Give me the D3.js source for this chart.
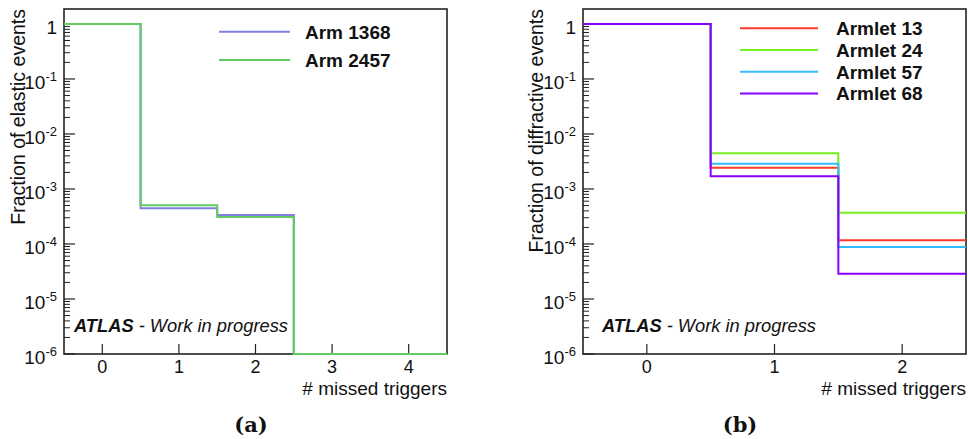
<!DOCTYPE html>
<html>
<head>
<meta charset="utf-8">
<script src="https://cdn.jsdelivr.net/npm/d3@7"></script>
<style>
  html, body { margin: 0; padding: 0; background: #fff; }
  svg { display: block; }
  text { font-family: "Liberation Sans", Arial, Helvetica, sans-serif; fill: #111; }
</style>
</head>
<body>
<svg id="chart" width="968" height="439"></svg>
<script>
// Bin centres (# missed triggers) for each panel
const elasticBins = [0, 1, 2, 3, 4];
const diffractiveBins = [0, 1, 2];

// Fraction of elastic events per arm (0 = empty bin)
const arm1368 = [1, 4.46e-4, 3.37e-4, 0, 0];
const arm2457 = [1, 5.05e-4, 3.10e-4, 0, 0];

// Fraction of diffractive events per armlet
const armlet13 = [1, 2.44e-3, 1.17e-4];
const armlet24 = [1, 4.46e-3, 3.71e-4];
const armlet57 = [1, 2.88e-3, 8.82e-5];
const armlet68 = [1, 1.70e-3, 2.88e-5];

// Log-axis decades shown as tick labels
const yDecades = [0, -1, -2, -3, -4, -5, -6];
const yMin = 1e-6, yMax = 1.87;

const svg = d3.select("#chart");

function drawPanel(p) {
  const g = svg.append("g");
  const x = d3.scaleLinear().domain([p.bins[0] - 0.5, p.bins[p.bins.length - 1] + 0.5]).range([p.left, p.right]);
  const y = d3.scaleLog().domain([yMin, yMax]).range([p.bottom, p.top]);

  // frame
  g.append("rect")
    .attr("x", p.left).attr("y", p.top)
    .attr("width", p.right - p.left).attr("height", p.bottom - p.top)
    .attr("fill", "none").attr("stroke", "#222").attr("stroke-width", 1.6);

  // minor log ticks
  const minor = [];
  yDecades.forEach(e => {
    if (e === 0) return;
    for (let k = 2; k <= 9; k++) minor.push(k * Math.pow(10, e));
  });
  g.selectAll(".minor").data(minor).join("line")
    .attr("x1", p.left).attr("x2", p.left + 6)
    .attr("y1", d => y(d)).attr("y2", d => y(d))
    .attr("stroke", "#222").attr("stroke-width", 1);

  // major log ticks and labels
  g.selectAll(".major").data(yDecades).join("line")
    .attr("x1", p.left).attr("x2", p.left + 11)
    .attr("y1", d => y(Math.pow(10, d))).attr("y2", d => y(Math.pow(10, d)))
    .attr("stroke", "#222").attr("stroke-width", 1.2);

  const lbl = g.selectAll(".ylab").data(yDecades).join("text")
    .attr("x", p.left - 7)
    .attr("y", d => y(Math.pow(10, d)) + 10)
    .attr("text-anchor", "end")
    .style("font-size", "19px");
  lbl.each(function(d) {
    const t = d3.select(this);
    if (d === 0) { t.text("1"); return; }
    t.append("tspan").text("10");
    t.append("tspan").attr("dy", -8).style("font-size", "13px").text(String(d));
  });

  // x ticks and labels
  g.selectAll(".xt").data(p.bins).join("line")
    .attr("x1", d => x(d)).attr("x2", d => x(d))
    .attr("y1", p.bottom).attr("y2", p.bottom - 10)
    .attr("stroke", "#222").attr("stroke-width", 1.2);
  g.selectAll(".xl").data(p.bins).join("text")
    .attr("x", d => x(d)).attr("y", p.bottom + 19)
    .attr("text-anchor", "middle").style("font-size", "18px")
    .text(d => d);

  // histograms drawn as steps; empty bins sit on the lower edge
  p.series.forEach(s => {
    const pts = [];
    s.values.forEach((v, i) => {
      const yy = y(Math.max(v, yMin));
      pts.push([x(p.bins[i] - 0.5), yy]);
      pts.push([x(p.bins[i] + 0.5), yy]);
    });
    g.append("path")
      .attr("d", d3.line()(pts))
      .attr("fill", "none")
      .attr("stroke", s.color)
      .attr("stroke-width", 2);
  });

  // axis titles
  g.append("text")
    .attr("transform", `translate(${p.ylabelX},${p.top}) rotate(-90)`)
    .attr("text-anchor", "end").style("font-size", "19.5px")
    .text(p.ylabel);
  g.append("text")
    .attr("x", p.right).attr("y", p.bottom + 41)
    .attr("text-anchor", "end").style("font-size", "19px")
    .text("# missed triggers");

  // legend
  p.series.forEach((s, i) => {
    const ly = p.legend.y0 + i * p.legend.dy;
    g.append("line")
      .attr("x1", p.legend.x1).attr("x2", p.legend.x2)
      .attr("y1", ly).attr("y2", ly)
      .attr("stroke", s.color).attr("stroke-width", 2);
    g.append("text")
      .attr("x", p.legend.tx).attr("y", ly + 7)
      .style("font-size", "19px").style("font-weight", "bold")
      .text(s.name);
  });

  // experiment label
  const atl = g.append("text")
    .attr("x", p.atlasX).attr("y", p.bottom - 22)
    .style("font-size", "18.3px").style("font-style", "italic");
  atl.append("tspan").style("font-weight", "bold").text("ATLAS");
  atl.append("tspan").text(" - Work in progress");

  // sub-figure caption
  g.append("text")
    .attr("x", p.captionX).attr("y", 432)
    .attr("text-anchor", "middle")
    .style("font-family", "'DejaVu Serif', 'Liberation Serif', serif")
    .style("font-weight", "bold").style("font-size", "21px")
    .text(p.caption);
}

drawPanel({
  bins: elasticBins, left: 64, right: 447, top: 9, bottom: 354,
  ylabel: "Fraction of elastic events", ylabelX: 25,
  series: [
    { name: "Arm 1368", values: arm1368, color: "#8080e4" },
    { name: "Arm 2457", values: arm2457, color: "#62cc62" }
  ],
  legend: { x1: 219, x2: 290, tx: 305, y0: 31.7, dy: 28.3 },
  atlasX: 74, captionX: 251, caption: "(a)"
});

drawPanel({
  bins: diffractiveBins, left: 583, right: 966, top: 9, bottom: 354,
  ylabel: "Fraction of diffractive events", ylabelX: 543,
  series: [
    { name: "Armlet 13", values: armlet13, color: "#ff3a2a" },
    { name: "Armlet 24", values: armlet24, color: "#77ee22" },
    { name: "Armlet 57", values: armlet57, color: "#33bbff" },
    { name: "Armlet 68", values: armlet68, color: "#8a00ff" }
  ],
  legend: { x1: 740, x2: 818, tx: 836, y0: 28.3, dy: 21.7 },
  atlasX: 602, captionX: 740, caption: "(b)"
});
</script>
</body>
</html>
